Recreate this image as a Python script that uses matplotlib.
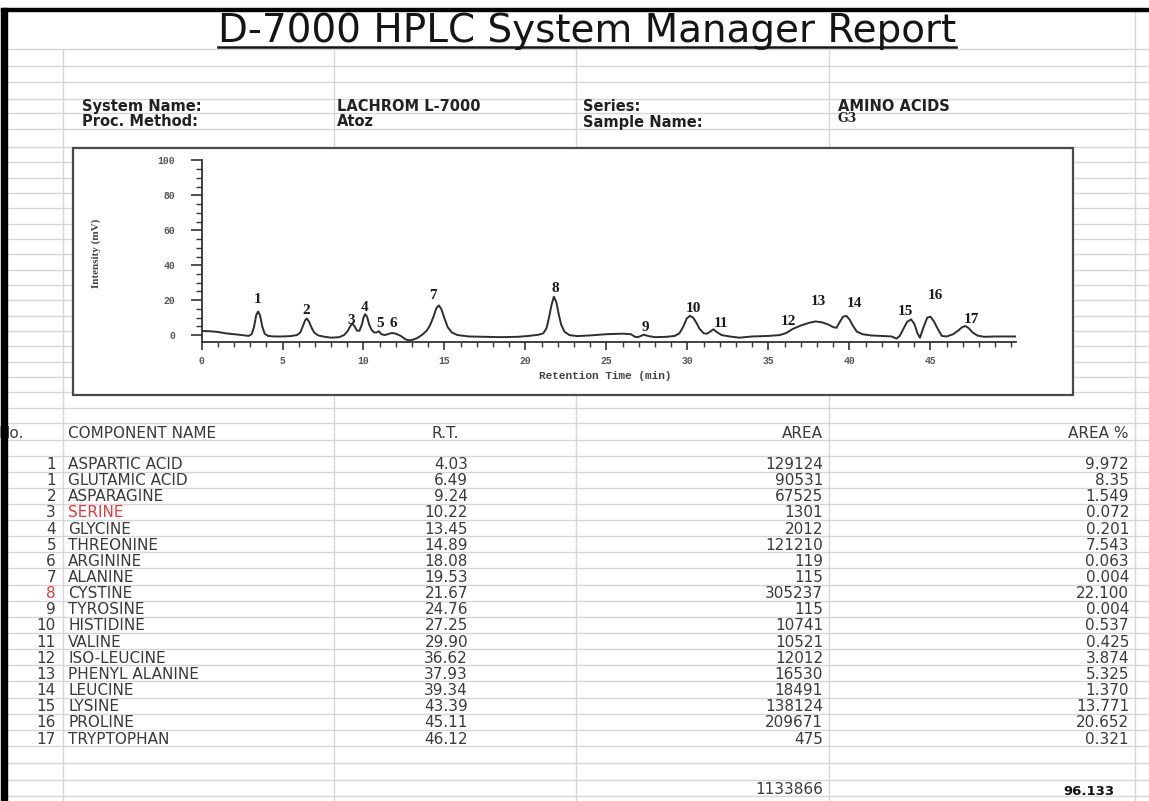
import matplotlib
matplotlib.use("Agg")
import matplotlib.pyplot as plt
from matplotlib.patches import Rectangle
from matplotlib.ticker import FixedLocator, MultipleLocator

W, H = 1149, 801

# report header
title = "D-7000 HPLC System Manager Report"
info_keys_1 = ["System Name:", "Proc. Method:"]
info_vals_1 = ["LACHROM L-7000", "Atoz"]
info_keys_2 = ["Series:", "Sample Name:"]
info_vals_2 = ["AMINO ACIDS", "G3"]

# results table
col_headers = ["No.", "COMPONENT NAME", "R.T.", "AREA", "AREA %"]
peak_no = [1, 1, 2, 3, 4, 5, 6, 7, 8, 9, 10, 11, 12, 13, 14, 15, 16, 17]
component = ["ASPARTIC ACID", "GLUTAMIC ACID", "ASPARAGINE", "SERINE", "GLYCINE",
             "THREONINE", "ARGININE", "ALANINE", "CYSTINE", "TYROSINE", "HISTIDINE",
             "VALINE", "ISO-LEUCINE", "PHENYL ALANINE", "LEUCINE", "LYSINE",
             "PROLINE", "TRYPTOPHAN"]
ret_time = ["4.03", "6.49", "9.24", "10.22", "13.45", "14.89", "18.08", "19.53", "21.67",
            "24.76", "27.25", "29.90", "36.62", "37.93", "39.34", "43.39", "45.11", "46.12"]
area = [129124, 90531, 67525, 1301, 2012, 121210, 119, 115, 305237, 115, 10741, 10521,
        12012, 16530, 18491, 138124, 209671, 475]
area_pct = ["9.972", "8.35", "1.549", "0.072", "0.201", "7.543", "0.063", "0.004", "22.100",
            "0.004", "0.537", "0.425", "3.874", "5.325", "1.370", "13.771", "20.652", "0.321"]
total_area = 1133866
total_pct = "96.133"
red_name = "SERINE"
red_no = 8

# chromatogram trace
rt_min = [
    0.0, 0.5, 1.0, 1.5, 2.0, 2.5, 2.9, 3.1, 3.25, 3.38,
    3.5, 3.62, 3.75, 3.9, 4.1, 4.5, 5.0, 5.5, 5.9, 6.1,
    6.25, 6.4, 6.5, 6.62, 6.78, 6.95, 7.2, 7.6, 8.0, 8.5,
    8.8, 9.0, 9.15, 9.3, 9.45, 9.6, 9.75, 9.9, 10.0, 10.1,
    10.22, 10.35, 10.5, 10.65, 10.8, 10.95, 11.1, 11.3, 11.5, 11.75,
    12.0, 12.3, 12.6, 12.8, 13.0, 13.3, 13.6, 13.9, 14.1, 14.3,
    14.5, 14.65, 14.8, 15.0, 15.2, 15.45, 15.8, 16.5, 17.5, 18.5,
    19.5, 20.2, 20.8, 21.1, 21.3, 21.45, 21.6, 21.75, 21.9, 22.05,
    22.2, 22.4, 22.7, 23.2, 24.0, 25.0, 26.0, 26.5, 26.8, 27.0,
    27.3, 27.6, 28.0, 28.7, 29.2, 29.5, 29.75, 29.95, 30.15, 30.35,
    30.55, 30.75, 31.0, 31.2, 31.4, 31.6, 31.8, 32.1, 32.6, 33.2,
    34.0, 35.0, 35.7, 36.1, 36.5, 37.0, 37.5, 37.9, 38.3, 38.7,
    39.0, 39.2, 39.4, 39.6, 39.8, 40.0, 40.2, 40.45, 40.8, 41.3,
    42.0, 42.6, 42.9, 43.1, 43.35, 43.55, 43.8, 44.0, 44.2, 44.35,
    44.55, 44.8, 45.0, 45.2, 45.45, 45.7, 46.0, 46.4, 46.7, 46.95,
    47.15, 47.35, 47.6, 47.9, 48.3, 49.0, 50.3,
]
signal_mv = [
    2.3, 2.2, 1.8, 1.0, 0.5, 0.0, -0.5, 0.5, 5.0, 11.5,
    13.5, 11.0, 5.0, 0.8, -0.5, -0.8, -0.8, -0.6, 0.0, 1.5,
    5.0, 8.5, 9.5, 8.0, 4.5, 1.5, -0.2, -1.0, -1.5, -1.2,
    0.0, 2.0, 4.5, 6.7, 5.0, 2.5, 2.5, 6.0, 10.0, 12.0,
    10.5, 6.0, 3.0, 1.5, 1.5, 2.2, 0.5, 0.0, 0.5, 1.2,
    0.8, -0.5, -2.5, -3.0, -2.8, -1.8, 0.0, 2.5, 5.5, 10.0,
    15.5, 17.0, 15.0, 9.5, 4.5, 1.5, 0.0, -0.8, -1.0, -1.2,
    -1.0, -0.5, 0.2, 1.0, 4.0, 10.0, 17.0, 22.0, 19.0, 12.0,
    6.0, 2.0, 0.0, -0.6, -0.2, 0.5, 0.8, 0.5, -1.2, -1.0,
    0.2, -0.6, -1.2, -1.0, -0.5, 1.0, 5.0, 9.5, 11.0, 10.0,
    7.0, 3.5, 1.0, 0.8, 2.0, 3.3, 1.8, 0.0, -0.8, -1.5,
    -0.8, -0.5, 0.0, 1.2, 3.5, 5.5, 7.0, 7.8, 7.3, 6.0,
    4.5, 4.2, 7.5, 10.5, 11.0, 9.0, 5.5, 2.0, 0.5, -0.2,
    -0.5, -0.8, -2.0, -0.5, 4.0, 7.5, 9.0, 6.5, 1.0, -1.5,
    4.0, 10.0, 10.5, 8.0, 3.5, -0.5, -0.8, 0.5, 2.5, 4.5,
    5.2, 4.0, 1.5, -0.3, -1.0, -0.8, -0.8,
]

# peak number labels
peak_tags = [str(i) for i in range(1, 18)]
tag_rt = [3.47, 6.45, 9.27, 10.05, 11.0, 11.84, 14.31, 21.86, 27.38, 30.36, 32.05,
          36.22, 38.07, 40.3, 43.43, 45.28, 47.54]
tag_mv = [20.1, 14.0, 8.6, 15.9, 6.7, 6.7, 22.4, 26.8, 4.4, 15.3, 6.7, 7.7, 19.1,
          18.2, 13.4, 22.4, 9.0]

fig = plt.figure(figsize=(W / 100, H / 100), dpi=100)
ax = fig.add_axes([0, 0, 1, 1])
ax.set_xlim(0, W)
ax.set_ylim(H, 0)
ax.axis("off")

grid_c = "#d6d6d6"
text_c = "#3a3a3a"
sheet_font = "DejaVu Sans"

# spreadsheet grid
row_lines = [49, 66, 82, 99, 113, 129]
row_lines += [147 + i * (423 - 147) / 18 for i in range(19)]
row_lines += [440, 455.5]
row_pitch = 16.15
first_row = 463.5
row_lines += [first_row + 8 + k * row_pitch for k in range(len(component))]
row_lines += [763, 780, 796]
ax.hlines(row_lines, 5, W, color=grid_c, lw=1, zorder=1)
ax.vlines([63, 334, 576, 829], 49, H, color=grid_c, lw=1, zorder=1)
ax.vlines([1135], 10, H, color=grid_c, lw=1, zorder=1)

# sheet border
ax.add_patch(Rectangle((1, 8), 6, H, color="black", zorder=10))
ax.add_patch(Rectangle((1, 7.5), W, 3.2, color="black", zorder=10))

# title with underline
t = ax.text(587, 42.5, title, ha="center", va="baseline", fontsize=28,
            family=sheet_font, color="#151515", zorder=5)

# header info
for i in range(2):
    yb = 111 + i * 15.5
    ax.text(82, yb, info_keys_1[i], fontsize=10.5, weight="bold", family=sheet_font,
            color="#222222", va="baseline")
    ax.text(337, yb, info_vals_1[i], fontsize=10.5, weight="bold", family=sheet_font,
            color="#222222", va="baseline")
    ax.text(583, yb, info_keys_2[i], fontsize=10.5, weight="bold", family=sheet_font,
            color="#222222", va="baseline")
ax.text(838, 111, info_vals_2[0], fontsize=10.5, weight="bold", family=sheet_font,
        color="#222222", va="baseline")
ax.text(838, 122, info_vals_2[1], fontsize=9, weight="bold", family="DejaVu Serif",
        color="#222222", va="baseline")

# chromatogram frame
ax.add_patch(Rectangle((73, 148), 1000, 247, facecolor="white", edgecolor="#4a4a4a",
                       lw=1.6, zorder=3))
ax.text(96, 253, "Intensity (mV)", rotation=90, ha="center", va="center", fontsize=8,
        family="Liberation Serif", weight="bold", color="#444444", zorder=5)
ax.text(605, 376, "Retention Time (min)", ha="center", va="center", fontsize=8,
        family="Liberation Mono", weight="bold", color="#444444", zorder=5)

x0_px, t_max, px_per_min = 201.5, 50.3, 16.2
y_top, y_bot = 160.5, 341.7
cax = fig.add_axes([x0_px / W, (H - y_bot) / H, t_max * px_per_min / W, (y_bot - y_top) / H])
cax.set_zorder(4)
cax.patch.set_visible(False)
cax.plot(rt_min, signal_mv, color="#2e2e2e", lw=1.4)
cax.set_xlim(0, t_max)
cax.set_ylim(-3.8, 100)
for s in ["top", "right"]:
    cax.spines[s].set_visible(False)
for s in ["left", "bottom"]:
    cax.spines[s].set_color("#333333")
    cax.spines[s].set_linewidth(1.3)
cax.xaxis.set_major_locator(FixedLocator(range(0, 50, 5)))
cax.xaxis.set_minor_locator(FixedLocator(range(0, 51)))
cax.yaxis.set_major_locator(FixedLocator(range(0, 101, 20)))
cax.yaxis.set_minor_locator(MultipleLocator(5))
cax.tick_params(axis="x", which="major", length=6, width=1.2, pad=4, color="#333333",
                labelsize=7, labelcolor="#555555", labelfontfamily="Liberation Mono")
cax.tick_params(axis="x", which="minor", length=3.5, width=1.0, color="#333333")
cax.tick_params(axis="y", which="major", length=8, width=1.2, pad=11, color="#333333",
                labelsize=7, labelcolor="#555555", labelfontfamily="Liberation Mono")
cax.tick_params(axis="y", which="minor", length=4, width=1.0, color="#333333")
for lbl in cax.get_xticklabels() + cax.get_yticklabels():
    lbl.set_fontweight("bold")
for tag, tx, ty in zip(peak_tags, tag_rt, tag_mv):
    cax.text(tx, ty, tag, ha="center", va="center", fontsize=11, weight="bold",
             family="Liberation Serif", color="#1a1a1a")

# table header
hb = 437.5
ax.text(-2, hb, col_headers[0], fontsize=11, family=sheet_font, color=text_c, va="baseline")
ax.text(68, hb, col_headers[1], fontsize=11, family=sheet_font, color=text_c, va="baseline")
ax.text(445, hb, col_headers[2], fontsize=11, family=sheet_font, color=text_c, va="baseline",
        ha="center")
ax.text(823, hb, col_headers[3], fontsize=11, family=sheet_font, color=text_c, va="baseline",
        ha="right")
ax.text(1129, hb, col_headers[4], fontsize=11, family=sheet_font, color=text_c, va="baseline",
        ha="right")

red = "#e53b3f"
for k in range(len(component)):
    yb = first_row + k * row_pitch + 5.5
    kw = dict(fontsize=11, family=sheet_font, va="baseline")
    ax.text(56, yb, str(peak_no[k]), ha="right",
            color=red if peak_no[k] == red_no else text_c, **kw)
    ax.text(68, yb, component[k], ha="left",
            color=red if component[k] == red_name else text_c, **kw)
    ax.text(468, yb, ret_time[k], ha="right", color=text_c, **kw)
    ax.text(823, yb, str(area[k]), ha="right", color=text_c, **kw)
    ax.text(1129, yb, area_pct[k], ha="right", color=text_c, **kw)

ax.text(823, 793.5, str(total_area), ha="right", va="baseline", fontsize=11,
        family=sheet_font, color=text_c)
ax.text(1115, 795, total_pct, ha="right", va="baseline", fontsize=9.5, weight="bold",
        family=sheet_font, color="#111111")

# underline the title
fig.canvas.draw()
bb = t.get_window_extent()
inv = ax.transData.inverted()
(ux0, _), (ux1, _) = inv.transform([[bb.x0, bb.y0], [bb.x1, bb.y0]])
ax.plot([ux0, ux1], [47, 47], color="#151515", lw=1.8, zorder=5)

fig.savefig("out.png", dpi=100)
